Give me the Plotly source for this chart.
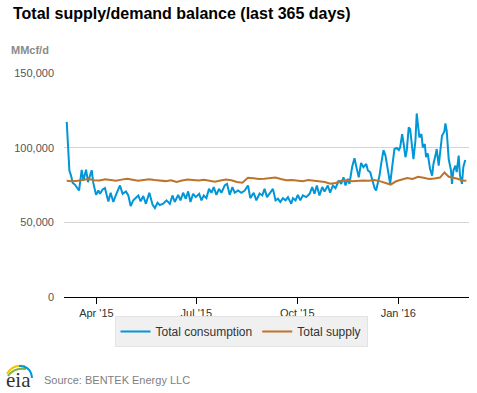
import pandas as pd
import plotly.graph_objects as go

# ---- data ----
start_date = "2015-03-05"

consumption_day = [0, 1.2, 2.4, 3.9, 5.5, 7.6, 9.7, 11.2, 13.6, 15.2, 17.6, 19.4, 22.7, 24.2, 26.7,
                   28.8, 30.3, 32.7, 34.8, 37.9, 40, 42.4, 44.8, 48.5, 50.9, 53.9, 56.1, 58.2, 60.6,
                   63, 65.2, 67.3, 69.7, 72.1, 75.2, 78.2, 80.3, 82.7, 84.8, 87.8, 90.9, 93.9, 96.3,
                   98.4, 101.5, 103.6, 106, 108.4, 110.6, 112.7, 115.1, 117.5, 120.6, 122.7, 124.8,
                   127.2, 129.6, 131.8, 133.9, 136.3, 138.7, 140.9, 143.9, 146, 148.4, 150.9, 153,
                   156, 159, 162.1, 165.1, 167.2, 170.3, 172.7, 175.7, 178.1, 180.2, 182.4, 184.8,
                   187.8, 190.2, 192.4, 194.5, 196.9, 199.3, 201.5, 204.5, 206, 208.4, 210.5, 212.7,
                   215.1, 218.1, 221.2, 223.6, 225.7, 227.8, 230.2, 232.7, 234.8, 237.8, 239.9, 242.4,
                   244.8, 247.8, 250, 252.1, 253.9, 256, 257.5, 259.9, 262.1, 264.2, 266, 268.1,
                   270.2, 272.8, 274.3, 276.4, 278.8, 280.3, 281.8, 283.4, 284.9, 286.4, 288.5, 290.3,
                   292.5, 294.6, 296.4, 298.5, 300.6, 302.5, 303.7, 305.5, 306.7, 308.5, 309.7, 311.5,
                   312.8, 314.6, 315.8, 317.6, 318.8, 320, 321.2, 323.1, 324.3, 326.1, 327.3, 328.8,
                   330.9, 332.8, 334, 335.8, 337, 338.8, 340, 341.8, 344, 344.9, 346.1, 347.9, 350,
                   350.9, 352.2, 354, 355.2, 357, 358.2, 360, 361.2, 363]
consumption = [117300, 94700, 84700, 81300, 76400, 75100, 72400, 71300, 85100, 78000, 85300, 76900,
               84900, 76400, 68400, 71300, 69100, 72000, 72900, 64000, 69800, 63600, 68400, 74700,
               69100, 70700, 68000, 60900, 64700, 66200, 68000, 64000, 67600, 62400, 69800, 61800,
               59600, 63100, 61500, 62500, 64700, 62400, 68000, 63600, 68400, 64700, 69800, 65800,
               70700, 63600, 69100, 66900, 69100, 64700, 68000, 66200, 72400, 69800, 73600, 68400,
               72400, 69800, 74700, 75800, 68400, 73600, 69800, 71300, 69800, 71300, 74700, 66200,
               69800, 64700, 69300, 68000, 72400, 66900, 69100, 72400, 64700, 65800, 63600, 66200,
               64700, 66900, 62400, 66200, 64700, 68400, 64700, 68000, 66900, 69100, 73600, 69100,
               74700, 68000, 73600, 70700, 74700, 69800, 74700, 72900, 78000, 75800, 80200, 74700,
               79100, 75800, 86900, 92900, 85800, 80200, 89800, 86900, 89100, 84700, 83600, 78000,
               73100, 71300, 75800, 81300, 89100, 98400, 94700, 83600, 75800, 86900, 99100, 99800,
               98400, 100200, 109100, 103600, 93600, 98000, 113600, 112400, 102400, 92400, 104700,
               122900, 114700, 106900, 109100, 100200, 102400, 93600, 96200, 85800, 81300, 89100,
               94700, 99100, 88000, 95800, 108000, 110900, 116200, 111300, 92400, 84700, 75800,
               84700, 88000, 83600, 94700, 81300, 75800, 86900, 91800]

supply_day = [0, 5, 10, 15, 20, 25, 30, 35, 40, 45, 50, 55, 60, 65, 70, 75, 80, 85, 90, 95, 100,
              105, 110, 115, 120, 125, 130, 135, 140, 145, 150, 155, 160, 165, 170, 175, 180, 185,
              190, 195, 200, 205, 210, 215, 220, 225, 230, 235, 240, 245, 250, 255, 260, 265, 270,
              275, 280, 285, 290, 295, 300, 305, 310, 315, 320, 325, 330, 335, 340, 344, 348, 352,
              356, 360, 364]
supply = [77800, 77500, 77800, 78600, 79000, 78200, 78000, 78800, 78400, 77900, 78600, 79200,
          78500, 77800, 78400, 78900, 78300, 78000, 77600, 78200, 77000, 78000, 78700, 78400,
          78000, 78500, 77800, 77200, 78000, 78600, 78200, 77000, 76500, 79800, 79500, 79000,
          79200, 79600, 80000, 79000, 78200, 78400, 78000, 77600, 78400, 77800, 77600, 77000,
          75800, 76400, 77800, 78200, 77500, 78000, 78000, 77800, 78400, 77600, 76500, 75300,
          77500, 78600, 79600, 79000, 80500, 79800, 79100, 79300, 80000, 83400, 80500, 79800,
          79200, 78000, 77800]

series_names = ["Total consumption", "Total supply"]
y_ticks = [0, 50000, 100000, 150000]

# ---- helpers for positioning decorations (pixel -> paper) ----
L, R, T, B = 64, 8, 73, 96
W, H = 477, 393
PW, PH = W - L - R, H - T - B


def px(x):
    return (x - L) / PW


def py(y):
    return (H - B - y) / PH


t0 = pd.Timestamp(start_date)
cons_dates = [t0 + pd.to_timedelta(d, unit="D") for d in consumption_day]
sup_dates = [t0 + pd.to_timedelta(d, unit="D") for d in supply_day]

fig = go.Figure()
fig.add_trace(go.Scatter(x=cons_dates, y=consumption, mode="lines", name=series_names[0],
                         line=dict(color="#0096D7", width=2)))
fig.add_trace(go.Scatter(x=sup_dates, y=supply, mode="lines", name=series_names[1],
                         line=dict(color="#BD732A", width=2)))

font_family = "Liberation Sans, Arial, sans-serif"

fig.update_layout(
    width=W, height=H,
    margin=dict(l=L, r=R, t=T, b=B, pad=0),
    paper_bgcolor="white", plot_bgcolor="white",
    font=dict(family=font_family, size=11, color="#333333"),
    showlegend=True,
    legend=dict(orientation="h", x=px(241), xanchor="center", y=py(316), yanchor="top",
                bgcolor="#f0f0f0", bordercolor="#e3e3e3", borderwidth=1,
                font=dict(size=12, color="#333333"), itemwidth=30,
                tracegroupgap=0),
    xaxis=dict(
        type="date",
        range=[t0 + pd.to_timedelta(-2.5, unit="D"), t0 + pd.to_timedelta(366.4, unit="D")],
        tickformat="%b '%y", dtick="M3", tick0="2015-01-01",
        showgrid=False, showline=True, linecolor="#000000", linewidth=1,
        ticks="outside", ticklen=6, tickcolor="#000000", tickwidth=1,
        tickfont=dict(size=11, color="#333333"),
        zeroline=False, fixedrange=True,
    ),
    yaxis=dict(
        range=[0, 150000], tickvals=y_ticks, tickformat=",",
        showgrid=True, gridcolor="#d4d4d4", gridwidth=1,
        showline=False, zeroline=False, ticks="",
        tickfont=dict(size=11, color="#555555"),
        ticklabelstandoff=9, fixedrange=True,
    ),
)

annotations = [
    dict(text="<b>Total supply/demand balance (last 365 days)</b>", x=px(11), y=py(13),
         xanchor="left", yanchor="middle", font=dict(size=16, color="#000000")),
    dict(text="<b>MMcf/d</b>", x=px(9), y=py(50), xanchor="left", yanchor="middle",
         font=dict(size=11, color="#8a8a8a")),
    dict(text="Source: BENTEK Energy LLC", x=px(42), y=py(380), xanchor="left", yanchor="middle",
         font=dict(size=11, color="#808080")),
    dict(text="eia", x=px(4), y=py(380), xanchor="left", yanchor="middle",
         font=dict(size=21, color="#333333", family="Liberation Serif, DejaVu Serif, serif")),
]
for a in annotations:
    a.update(xref="paper", yref="paper", showarrow=False)
fig.update_layout(annotations=annotations)


def arc(p0, c, p1):
    return "M {} {} Q {} {} {} {}".format(px(p0[0]), py(p0[1]), px(c[0]), py(c[1]),
                                         px(p1[0]), py(p1[1]))


logo_shapes = [
    dict(path=arc((7, 374), (12, 364), (25, 366)), color="#F2C500"),
    dict(path=arc((8, 376), (14, 367), (26, 369)), color="#7CB342"),
    dict(path=arc((19, 366), (31, 366), (32, 378)), color="#0096D7"),
]
fig.update_layout(shapes=[dict(type="path", xref="paper", yref="paper", path=s["path"],
                               line=dict(color=s["color"], width=2)) for s in logo_shapes])

fig.write_html("out.html", config={"displayModeBar": False},
               post_script="document.body.style.margin='0px';document.body.style.overflow='hidden';")
